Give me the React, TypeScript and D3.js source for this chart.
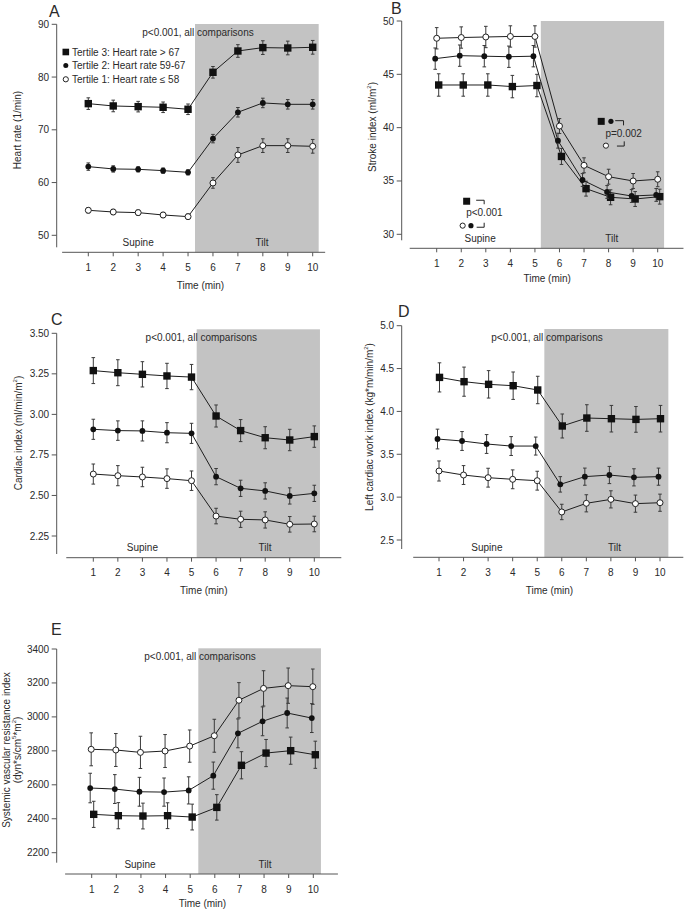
import React from 'react';
import * as d3 from 'd3';

const minutes = [1, 2, 3, 4, 5, 6, 7, 8, 9, 10];
const xTickLabels = ['1', '2', '3', '4', '5', '6', '7', '8', '9', '10'];

// Panel A: heart rate (1/min)
const hrT3 = [74.96, 74.52, 74.39, 74.27, 73.89, 80.9, 84.94, 85.58, 85.51, 85.64];
const hrT3Err = [1.1, 1.1, 1.0, 1.0, 1.0, 1.1, 1.2, 1.3, 1.3, 1.3];
const hrT2 = [63.02, 62.58, 62.51, 62.26, 61.94, 68.33, 73.32, 75.09, 74.83, 74.83];
const hrT2Err = [0.7, 0.6, 0.5, 0.5, 0.5, 0.8, 0.9, 0.9, 0.9, 0.9];
const hrT1 = [54.74, 54.42, 54.3, 53.85, 53.54, 59.92, 65.23, 67.0, 67.0, 66.87];
const hrT1Err = [0.5, 0.5, 0.5, 0.5, 0.5, 1.0, 1.4, 1.3, 1.3, 1.3];
const hrTicks = [50, 60, 70, 80, 90];

// Panel B: stroke index (ml/m2)
const siT3 = [44.0, 44.0, 44.0, 43.85, 43.95, 37.3, 34.28, 33.47, 33.31, 33.53];
const siT3Err = [1.05, 1.05, 1.05, 1.05, 1.05, 0.75, 0.7, 0.7, 0.7, 0.7];
const siT2 = [46.47, 46.75, 46.7, 46.65, 46.7, 38.78, 35.09, 33.97, 33.59, 33.69];
const siT2Err = [1.0, 1.0, 1.0, 1.0, 1.0, 0.7, 0.6, 0.6, 0.6, 0.6];
const siT1 = [48.38, 48.45, 48.5, 48.55, 48.55, 40.15, 36.47, 35.4, 35.0, 35.16];
const siT1Err = [1.0, 1.0, 1.0, 1.0, 1.0, 0.7, 0.7, 0.7, 0.7, 0.7];
const siTicks = [30, 35, 40, 45, 50];

// Panel C: cardiac index (ml/min/m2)
const ciT3 = [3.27, 3.257, 3.247, 3.237, 3.23, 2.99, 2.9, 2.856, 2.842, 2.863];
const ciT3Err = [0.08, 0.08, 0.078, 0.078, 0.078, 0.068, 0.068, 0.068, 0.066, 0.066];
const ciT2 = [2.908, 2.9, 2.898, 2.887, 2.883, 2.616, 2.544, 2.528, 2.497, 2.513];
const ciT2Err = [0.062, 0.06, 0.062, 0.062, 0.062, 0.05, 0.05, 0.05, 0.05, 0.05];
const ciT1 = [2.632, 2.622, 2.614, 2.604, 2.591, 2.373, 2.353, 2.349, 2.322, 2.324];
const ciT1Err = [0.062, 0.062, 0.06, 0.06, 0.06, 0.048, 0.05, 0.05, 0.048, 0.048];
const ciTicks = [2.25, 2.5, 2.75, 3.0, 3.25, 3.5];

// Panel D: left cardiac work index (kg*m/min/m2)
const lcwT3 = [4.397, 4.347, 4.316, 4.3, 4.25, 3.83, 3.923, 3.915, 3.907, 3.915];
const lcwT3Err = [0.17, 0.17, 0.16, 0.16, 0.16, 0.14, 0.155, 0.155, 0.15, 0.155];
const lcwT2 = [3.678, 3.655, 3.62, 3.596, 3.596, 3.149, 3.239, 3.258, 3.231, 3.239];
const lcwT2Err = [0.115, 0.11, 0.11, 0.11, 0.105, 0.09, 0.1, 0.1, 0.1, 0.1];
const lcwT1 = [3.305, 3.258, 3.227, 3.208, 3.192, 2.827, 2.928, 2.974, 2.924, 2.935];
const lcwT1Err = [0.117, 0.11, 0.11, 0.11, 0.11, 0.09, 0.1, 0.1, 0.1, 0.1];
const lcwTicks = [2.5, 3.0, 3.5, 4.0, 4.5, 5.0];

// Panel E: systemic vascular resistance index (dyn*s/cm5*m2)
const svrT3 = [2426, 2418, 2416, 2418, 2410, 2467, 2715, 2787, 2801, 2777];
const svrT3Err = [77, 77, 76, 76, 76, 75, 80, 80, 80, 80];
const svrT2 = [2581, 2575, 2559, 2557, 2567, 2654, 2903, 2974, 3023, 2993];
const svrT2Err = [87, 85, 85, 83, 80, 80, 85, 85, 88, 85];
const svrT1 = [2809, 2805, 2791, 2799, 2828, 2889, 3098, 3168, 3184, 3178];
const svrT1Err = [97, 97, 95, 97, 95, 97, 104, 104, 104, 104];
const svrTicks = [2200, 2400, 2600, 2800, 3000, 3200, 3400];

const legendLabels = ['Tertile 3: Heart rate > 67', 'Tertile 2: Heart rate 59-67', 'Tertile 1: Heart rate \u2264 58'];

const FONT = '"Liberation Sans", Arial, Helvetica, sans-serif';
const TEXT = '#2a2a2a';
const AXIS = '#555';
const LINE = '#1e1e1e';
const ERR = '#3a3a3a';
const SHADE = '#c3c3c3';

type Kind = 'square' | 'dot' | 'open';
type Series = { vals: number[]; errs: number[]; kind: Kind; dx: number };

type LabelPart = { t: string; sup?: boolean };

type PanelCfg = {
  key: string;
  letter: string;
  letterPos: [number, number];
  xPx: [number, number];
  yDomain: [number, number];
  yPx: [number, number];
  yTicks: number[];
  yFmt: (v: number) => string;
  axisY: number;
  axisXDomain: [number, number];
  yAxisExt: number;
  shade: [number, number];
  shadeTop: number;
  ylabel: LabelPart[][];
  ylabelX: number[];
  ylabelY: number;
  series: Series[];
  pText: boolean;
  supineX: number;
  tiltX: number;
  timeDy: number;
};

const panels: PanelCfg[] = [
  {
    key: 'A', letter: 'A', letterPos: [49, 17],
    xPx: [88.3, 312.7], yDomain: [50, 90], yPx: [235.3, 24.3],
    yTicks: hrTicks, yFmt: d3.format('d'),
    axisY: 252.3, axisXDomain: [-0.05, 10.5], yAxisExt: 12,
    shade: [5.28, 10.24], shadeTop: 24,
    ylabel: [[{ t: 'Heart rate (1/min)' }]], ylabelX: [16.7], ylabelY: 130,
    series: [
      { vals: hrT3, errs: hrT3Err, kind: 'square', dx: 0 },
      { vals: hrT2, errs: hrT2Err, kind: 'dot', dx: 0 },
      { vals: hrT1, errs: hrT1Err, kind: 'open', dx: 0 },
    ],
    pText: true, supineX: 3, tiltX: 7.97, timeDy: 33.5,
  },
  {
    key: 'B', letter: 'B', letterPos: [391, 14],
    xPx: [436.7, 657.7], yDomain: [30, 50], yPx: [234.3, 21],
    yTicks: siTicks, yFmt: d3.format('d'),
    axisY: 248.3, axisXDomain: [-0.1, 11.05], yAxisExt: 6,
    shade: [5.24, 10.26], shadeTop: 21,
    ylabel: [[{ t: 'Stroke index (ml/m' }, { t: '2', sup: true }, { t: ')' }]], ylabelX: [371.7], ylabelY: 127,
    series: [
      { vals: siT3, errs: siT3Err, kind: 'square', dx: 2 },
      { vals: siT2, errs: siT2Err, kind: 'dot', dx: -1.5 },
      { vals: siT1, errs: siT1Err, kind: 'open', dx: 0 },
    ],
    pText: false, supineX: 2.77, tiltX: 8.13, timeDy: 30,
  },
  {
    key: 'C', letter: 'C', letterPos: [51, 325],
    xPx: [93.3, 314.3], yDomain: [2.25, 3.5], yPx: [536, 333.3],
    yTicks: ciTicks, yFmt: d3.format('.2f'),
    axisY: 557.7, axisXDomain: [-0.1, 11.1], yAxisExt: 18,
    shade: [5.21, 10.23], shadeTop: 329.3,
    ylabel: [[{ t: 'Cardiac index (ml/min/m' }, { t: '2', sup: true }, { t: ')' }]], ylabelX: [17.5], ylabelY: 433,
    series: [
      { vals: ciT3, errs: ciT3Err, kind: 'square', dx: 0 },
      { vals: ciT2, errs: ciT2Err, kind: 'dot', dx: 0 },
      { vals: ciT1, errs: ciT1Err, kind: 'open', dx: 0 },
    ],
    pText: true, supineX: 3, tiltX: 7.99, timeDy: 33,
  },
  {
    key: 'D', letter: 'D', letterPos: [398, 317],
    xPx: [439, 660], yDomain: [2.5, 5.0], yPx: [540, 325.7],
    yTicks: lcwTicks, yFmt: d3.format('.1f'),
    axisY: 557.3, axisXDomain: [-0.05, 10.95], yAxisExt: 9,
    shade: [5.29, 10.34], shadeTop: 329,
    ylabel: [[{ t: 'Left cardiac work index (kg*m/min/m' }, { t: '2', sup: true }, { t: ')' }]], ylabelX: [368.7], ylabelY: 427,
    series: [
      { vals: lcwT3, errs: lcwT3Err, kind: 'square', dx: 0.5 },
      { vals: lcwT2, errs: lcwT2Err, kind: 'dot', dx: -1.5 },
      { vals: lcwT1, errs: lcwT1Err, kind: 'open', dx: 0 },
    ],
    pText: true, supineX: 2.95, tiltX: 8.15, timeDy: 33,
  },
  {
    key: 'E', letter: 'E', letterPos: [51, 635],
    xPx: [91.7, 313.3], yDomain: [2200, 3400], yPx: [852.7, 649],
    yTicks: svrTicks, yFmt: d3.format('d'),
    axisY: 874, axisXDomain: [-0.08, 11.0], yAxisExt: 10,
    shade: [5.33, 10.31], shadeTop: 648.3,
    ylabel: [
      [{ t: 'Systemic vascular resistance index' }],
      [{ t: '(dyn*s/cm' }, { t: '5', sup: true }, { t: '*m' }, { t: '2', sup: true }, { t: ')' }],
    ],
    ylabelX: [5.5, 16.5], ylabelY: 750,
    series: [
      { vals: svrT3, errs: svrT3Err, kind: 'square', dx: 2 },
      { vals: svrT2, errs: svrT2Err, kind: 'dot', dx: -1.5 },
      { vals: svrT1, errs: svrT1Err, kind: 'open', dx: -0.5 },
    ],
    pText: true, supineX: 2.96, tiltX: 8.04, timeDy: 29.5,
  },
];

function Marker({ kind, x, y }: { kind: Kind; x: number; y: number }) {
  if (kind === 'square') return <rect x={x - 3.7} y={y - 3.7} width={7.4} height={7.4} fill="#111" />;
  if (kind === 'dot') return <circle cx={x} cy={y} r={2.9} fill="#111" />;
  return <circle cx={x} cy={y} r={3} fill="#fff" stroke="#222" strokeWidth={1} />;
}

function YLabel({ parts, x, y }: { parts: LabelPart[]; x: number; y: number }) {
  return (
    <text transform={`translate(${x},${y}) rotate(-90)`} textAnchor="middle" dominantBaseline="central"
      fontSize={10} fill={TEXT} fontFamily={FONT}>
      {parts.map((p, i) =>
        p.sup ? (
          <tspan key={i} fontSize={6} dy={-3}>{p.t}</tspan>
        ) : (
          <tspan key={i} dy={i > 0 && parts[i - 1].sup ? 3 : 0}>{p.t}</tspan>
        )
      )}
    </text>
  );
}

function Panel({ cfg }: { cfg: PanelCfg }) {
  const x = d3.scaleLinear().domain([1, 10]).range(cfg.xPx);
  const y = d3.scaleLinear().domain(cfg.yDomain).range(cfg.yPx);
  const yTop = y(cfg.yDomain[1]);
  const yBottom = y(cfg.yDomain[0]);
  const axisLeft = x(cfg.axisXDomain[0]);
  const axisRight = x(cfg.axisXDomain[1]);
  const yAxisX = cfg.key === 'A' || cfg.key === 'C' || cfg.key === 'E' ? 56.7 : 401.7;

  const line = d3.line<number>()
    .x((_, i) => x(minutes[i]))
    .y((d) => y(d));

  return (
    <g fontFamily={FONT}>
      <rect x={x(cfg.shade[0])} y={cfg.shadeTop} width={x(cfg.shade[1]) - x(cfg.shade[0])}
        height={cfg.axisY - cfg.shadeTop} fill={SHADE} />

      <text x={cfg.letterPos[0]} y={cfg.letterPos[1]} fontSize={16} fill={TEXT}>{cfg.letter}</text>

      <line x1={yAxisX} x2={yAxisX} y1={yTop} y2={yBottom + cfg.yAxisExt} stroke={AXIS} strokeWidth={1} />
      {cfg.yTicks.map((t) => (
        <g key={t}>
          <line x1={yAxisX - 5} x2={yAxisX} y1={y(t)} y2={y(t)} stroke={AXIS} strokeWidth={1} />
          <text x={yAxisX - 7.5} y={y(t)} textAnchor="end" dominantBaseline="central" fontSize={10} fill={TEXT}>
            {cfg.yFmt(t)}
          </text>
        </g>
      ))}
      {cfg.ylabel.map((parts, i) => (
        <YLabel key={i} parts={parts} x={cfg.ylabelX[i]} y={cfg.ylabelY} />
      ))}

      <line x1={axisLeft} x2={axisRight} y1={cfg.axisY} y2={cfg.axisY} stroke={AXIS} strokeWidth={1} />
      {minutes.map((m, i) => (
        <g key={m}>
          <line x1={x(m)} x2={x(m)} y1={cfg.axisY} y2={cfg.axisY + 4} stroke={AXIS} strokeWidth={1} />
          <text x={x(m)} y={cfg.axisY + 15} textAnchor="middle" dominantBaseline="central" fontSize={10} fill={TEXT}>
            {xTickLabels[i]}
          </text>
        </g>
      ))}
      <text x={x(5.5)} y={cfg.axisY + cfg.timeDy} textAnchor="middle" dominantBaseline="central" fontSize={10} fill={TEXT}>
        Time (min)
      </text>

      <text x={x(cfg.supineX)} y={cfg.axisY - 10} textAnchor="middle" dominantBaseline="central" fontSize={10} fill={TEXT}>Supine</text>
      <text x={x(cfg.tiltX)} y={cfg.axisY - 10} textAnchor="middle" dominantBaseline="central" fontSize={10} fill={TEXT}>Tilt</text>

      {cfg.pText && (
        <text x={x(5.4)} y={cfg.shadeTop + 8} textAnchor="middle" dominantBaseline="central" fontSize={10} fill={TEXT}>
          p&lt;0.001, all comparisons
        </text>
      )}

      {cfg.series.map((s, si) => (
        <g key={si} transform={`translate(${s.dx},0)`}>
          <path d={line(s.vals) || ''} fill="none" stroke={LINE} strokeWidth={1} />
          {s.vals.map((v, i) => {
            const cx = x(minutes[i]);
            const hi = y(v + s.errs[i]);
            const lo = y(v - s.errs[i]);
            return (
              <g key={i}>
                <line x1={cx} x2={cx} y1={hi} y2={lo} stroke={ERR} strokeWidth={1} />
                <line x1={cx - 1.8} x2={cx + 1.8} y1={hi} y2={hi} stroke={ERR} strokeWidth={1} />
                <line x1={cx - 1.8} x2={cx + 1.8} y1={lo} y2={lo} stroke={ERR} strokeWidth={1} />
              </g>
            );
          })}
          {s.vals.map((v, i) => (
            <Marker key={i} kind={s.kind} x={x(minutes[i])} y={y(v)} />
          ))}
        </g>
      ))}

      {cfg.key === 'A' && (
        <g>
          {legendLabels.map((lab, i) => {
            const ly = [52, 65.5, 79.3][i];
            const kind: Kind = (['square', 'dot', 'open'] as Kind[])[i];
            return (
              <g key={i}>
                {kind === 'square' ? (
                  <rect x={62.5} y={ly - 3.3} width={6.6} height={6.6} fill="#111" />
                ) : kind === 'dot' ? (
                  <circle cx={65.8} cy={ly} r={2.5} fill="#111" />
                ) : (
                  <circle cx={65.8} cy={ly} r={2.6} fill="#fff" stroke="#222" strokeWidth={1} />
                )}
                <text x={72} y={ly} dominantBaseline="central" fontSize={10} fill={TEXT}>{lab}</text>
              </g>
            );
          })}
        </g>
      )}

      {cfg.key === 'B' && (
        <g>
          <g transform={`translate(${x(2.22)},${y(33.1)})`}>
            <rect x={-3.5} y={-3.5} width={7} height={7} fill="#111" />
            <path d="M9.5,-1 H17.5 V3" fill="none" stroke="#222" strokeWidth={1} />
            <text x={-0.5} y={11} dominantBaseline="central" fontSize={10} fill={TEXT}>p&lt;0.001</text>
            <circle cx={-4} cy={24.4} r={2.6} fill="#fff" stroke="#222" strokeWidth={1} />
            <circle cx={4.3} cy={24.4} r={2.6} fill="#111" />
            <path d="M10,26 H17.5 V21.5" fill="none" stroke="#222" strokeWidth={1} />
          </g>
          <g transform={`translate(${x(7.7)},${y(40.59)})`}>
            <rect x={-3.5} y={-3.5} width={7} height={7} fill="#111" />
            <circle cx={9.7} cy={0} r={2.6} fill="#111" />
            <path d="M14,-0.7 H22.3 V4" fill="none" stroke="#222" strokeWidth={1} />
            <text x={4.2} y={11.7} dominantBaseline="central" fontSize={10} fill={TEXT}>p=0.002</text>
            <circle cx={4.7} cy={24.3} r={2.6} fill="#fff" stroke="#222" strokeWidth={1} />
            <path d="M15.7,24.7 H23 V20" fill="none" stroke="#222" strokeWidth={1} />
          </g>
        </g>
      )}
    </g>
  );
}

export default function App() {
  return (
    <svg width={685} height={909} viewBox="0 0 685 909"
      style={{ position: 'absolute', left: 0, top: 0, background: '#fff' }}>
      <rect x={0} y={0} width={685} height={909} fill="#fff" />
      {panels.map((p) => (
        <Panel key={p.key} cfg={p} />
      ))}
    </svg>
  );
}
